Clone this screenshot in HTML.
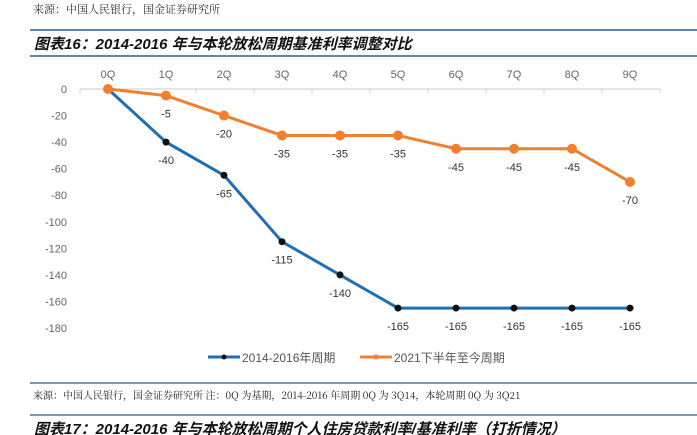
<!DOCTYPE html>
<html><head><meta charset="utf-8"><style>
body{margin:0;width:697px;height:435px;background:#fff;overflow:hidden;font-family:"Liberation Sans","Noto Sans CJK SC",sans-serif}
svg{position:absolute;left:0;top:0}
</style></head><body>
<svg width="697" height="435">
<text x="33" y="13" font-size="11" fill="#333" font-family="'Noto Serif CJK SC',serif">来源：中国人民银行，国金证券研究所</text>
<line x1="30" y1="30" x2="697" y2="30" stroke="#2a5f8a" stroke-width="1.5"/>
<text x="34" y="49" font-size="15" font-weight="bold" font-style="italic" fill="#111">图表16：2014-2016 年与本轮放松周期基准利率调整对比</text>
<line x1="30" y1="56" x2="697" y2="56" stroke="#2a5f8a" stroke-width="1.5"/>
<g id="plot"></g>
<g>
<line x1="208" y1="357" x2="240" y2="357" stroke="#1f6fb5" stroke-width="3"/><circle cx="224" cy="357" r="2.5" fill="#111"/>
<text x="242" y="362" font-size="12" fill="#555">2014-2016年周期</text>
<line x1="360" y1="357" x2="392" y2="357" stroke="#f08030" stroke-width="3"/><circle cx="376" cy="357" r="2.5" fill="#f08030"/>
<text x="394" y="362" font-size="12" fill="#555">2021下半年至今周期</text>
</g>
<line x1="30" y1="383" x2="697" y2="383" stroke="#2a5f8a" stroke-width="1.2"/>
<text x="33" y="399" font-size="10" fill="#222" font-family="'Noto Serif CJK SC',serif">来源：中国人民银行，国金证券研究所 注：0Q 为基期，2014-2016 年周期 0Q 为 3Q14，本轮周期 0Q 为 3Q21</text>
<line x1="30" y1="415" x2="697" y2="415" stroke="#2a5f8a" stroke-width="1.2"/>
<text x="34" y="434" font-size="15" font-weight="bold" font-style="italic" fill="#111">图表17：2014-2016 年与本轮放松周期个人住房贷款利率/基准利率（打折情况）</text>
</svg>
<script>
const categories=["0Q","1Q","2Q","3Q","4Q","5Q","6Q","7Q","8Q","9Q"];
const series2014=[0,-40,-65,-115,-140,-165,-165,-165,-165,-165];
const series2021=[0,-5,-20,-35,-35,-35,-45,-45,-45,-70];
const yTicks=[0,-20,-40,-60,-80,-100,-120,-140,-160,-180];
const NS="http://www.w3.org/2000/svg";
const g=document.getElementById('plot');
const xs=i=>108+i*58, ys=v=>89-v*239/180;
function mk(t,a,p){const e=document.createElementNS(NS,t);for(const k in a)e.setAttribute(k,a[k]);(p||g).appendChild(e);return e;}
const ax=mk('line',{x1:80,y1:89,x2:660,y2:89,stroke:'#ccc'});


for(let i=0;i<=categories.length;i++){const tk=mk('line',{x1:80+i*58,y1:89,x2:80+i*58,y2:93,stroke:'#ccc'});

}
categories.forEach((c,i)=>{const t=mk('text',{x:xs(i),y:78,'font-size':11,fill:'#666','text-anchor':'middle'});t.textContent=c;

});
yTicks.forEach(v=>{const t=mk('text',{x:67,y:ys(v)+4,'font-size':11,fill:'#666','text-anchor':'end'});t.textContent=v;

});
function draw(data,color,name,below){
 const l=mk('polyline',{points:data.map((v,i)=>xs(i)+','+ys(v)).join(' '),fill:'none',stroke:color,'stroke-width':3});
 
 
 data.forEach((v,i)=>{const c=mk('circle',{cx:xs(i),cy:ys(v),r:color==='#f08030'?4.5:3.5,fill:color==='#f08030'?color:'#111',stroke:color==='#f08030'?color:'none'});
 
 
 if(i>0){const t=mk('text',{x:xs(i),y:ys(v)+(below?22:25),'font-size':11,fill:'#333','text-anchor':'middle'});t.textContent=v;
 
 }});
}
draw(series2014,'#1f6fb5','series-2014',true);
draw(series2021,'#f08030','series-2021',true);
</script>
</body></html>
